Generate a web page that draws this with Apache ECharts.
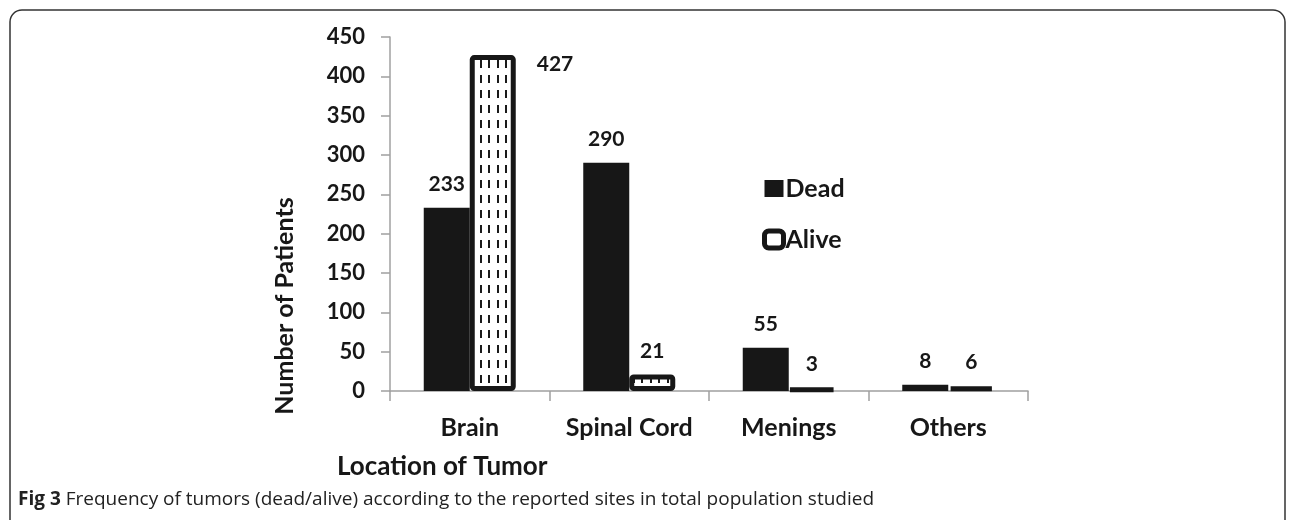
<!DOCTYPE html>
<html>
<head>
    <meta charset="utf-8">
    <title>ECharts</title>
    <script src="https://cdn.jsdelivr.net/npm/echarts@6/dist/echarts.min.js"></script>
    <style>
        html, body { margin: 0; padding: 0; background: #fff; }
    </style>
</head>
<body>
    <div id="main" style="width: 1292px;height:520px;"></div>
    <script type="text/javascript">
        var categories = ['Brain', 'Spinal Cord', 'Menings', 'Others'];
        var deadValues = [233, 290, 55, 8];
        var aliveValues = [427, 21, 3, 6];
        var yTicks = [0, 50, 100, 150, 200, 250, 300, 350, 400, 450];

        var myChart = echarts.init(document.getElementById('main'));

        // dashed vertical pattern used inside the "Alive" bars
        var canvas = document.createElement('canvas');
        canvas.width = 17;
        canvas.height = 15;
        var ctx = canvas.getContext('2d');
        ctx.fillStyle = '#ffffff';
        ctx.fillRect(0, 0, 17, 15);
        ctx.fillStyle = '#1a1a1a';
        ctx.fillRect(4, 0, 2, 8);
        ctx.fillRect(12, 0, 2, 8);

        var ink = '#171717';
        var font = 'Lato';

        var labelStyle = {
            show: true,
            position: 'top',
            distance: 13,
            color: ink,
            fontFamily: font,
            fontWeight: 'bold',
            fontSize: 21
        };

        option = {
            animation: false,
            backgroundColor: '#fff',
            grid: {
                left: 390,
                right: 264,
                top: 37,
                bottom: 129
            },
            legend: {
                orient: 'vertical',
                left: 757,
                top: 171,
                itemGap: 26,
                itemWidth: 19,
                itemHeight: 17,
                textStyle: {
                    color: ink,
                    fontFamily: font,
                    fontWeight: 'bold',
                    fontSize: 25,
                    padding: [0, 0, 0, -3]
                },
                data: [
                    { name: 'Dead', icon: 'rect', itemStyle: { color: ink, borderWidth: 0 } },
                    { name: 'Alive', icon: 'roundRect', itemStyle: { color: '#fff', borderColor: ink, borderWidth: 5 } }
                ]
            },
            xAxis: {
                type: 'category',
                data: categories,
                axisLine: { lineStyle: { color: '#a0a0a0', width: 1.5 } },
                axisTick: { show: true, length: 10, lineStyle: { color: '#a0a0a0', width: 1.5 } },
                axisLabel: {
                    interval: 0,
                    margin: 24,
                    color: ink,
                    fontFamily: font,
                    fontWeight: 'bold',
                    fontSize: 25
                }
            },
            yAxis: {
                type: 'value',
                min: 0,
                max: 450,
                interval: 50,
                splitLine: { show: false },
                axisLine: { show: true, lineStyle: { color: '#a0a0a0', width: 1.5 } },
                axisTick: { show: true, length: 9, lineStyle: { color: '#a0a0a0', width: 1.5 } },
                axisLabel: {
                    margin: 25,
                    color: ink,
                    fontFamily: font,
                    fontWeight: 'bold',
                    fontSize: 22,
                    formatter: function (v) {
                        return yTicks.indexOf(v) >= 0 ? String(v) : '';
                    }
                }
            },
            series: [{
                name: 'Dead',
                type: 'bar',
                barWidth: 46,
                barGap: '0%',
                itemStyle: { color: ink },
                label: labelStyle,
                data: deadValues
            }, {
                name: 'Alive',
                type: 'bar',
                barWidth: 46,
                z: 3,
                itemStyle: {
                    color: { image: canvas, repeat: 'repeat' },
                    borderColor: ink,
                    borderWidth: 5,
                    borderRadius: 2
                },
                label: labelStyle,
                data: aliveValues.map(function (v, i) {
                    if (i === 0) {
                        return {
                            value: v,
                            label: {
                                position: [67, 9],
                                align: 'left',
                                verticalAlign: 'middle'
                            }
                        };
                    }
                    return v;
                })
            }],
            graphic: [{
                type: 'rect',
                shape: { x: 10, y: 10, width: 1275, height: 600, r: [12, 12, 0, 0] },
                style: { fill: 'none', stroke: '#333', lineWidth: 1.5 },
                silent: true
            }, {
                type: 'text',
                x: 285,
                y: 306,
                rotation: Math.PI / 2,
                style: {
                    text: 'Number of Patients',
                    fill: ink,
                    font: 'bold 25px Lato',
                    align: 'center',
                    verticalAlign: 'middle'
                }
            }, {
                type: 'text',
                left: 337,
                top: 454,
                style: {
                    text: 'Location of Tumor',
                    fill: ink,
                    font: 'bold 26px Lato'
                }
            }, {
                type: 'text',
                left: 18,
                top: 490,
                style: {
                    text: '{b|Fig 3} Frequency of tumors (dead/alive) according to the reported sites in total population studied',
                    fill: '#222',
                    font: '19px "Open Sans"',
                    rich: {
                        b: { fontWeight: 'bold', fontFamily: 'Open Sans', fontSize: 19, fill: '#222' }
                    }
                }
            }]
        };

        myChart.setOption(option);
    </script>
</body>
</html>
